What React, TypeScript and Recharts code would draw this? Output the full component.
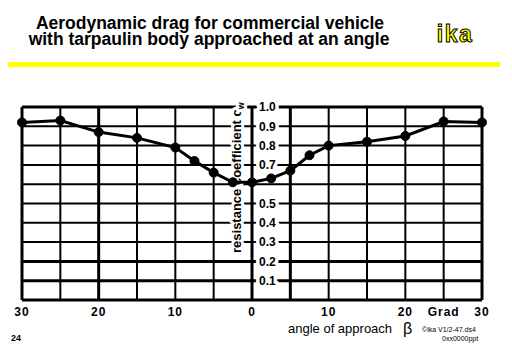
import React from "react";
import { LineChart, Line, XAxis, YAxis, ReferenceLine } from "recharts";

// ---- data ----
const angles = [-30, -25, -20, -15, -10, -7.5, -5, -2.5, 0, 2.5, 5, 7.5, 10, 15, 20, 25, 30];
const cwValues = [0.92, 0.93, 0.87, 0.84, 0.79, 0.72, 0.66, 0.61, 0.61, 0.63, 0.67, 0.75, 0.8, 0.82, 0.85, 0.925, 0.92];
const xTickValues = [-30, -20, -10, 0, 10, 20, 25, 30];
const xTickLabels = ["30", "20", "10", "0", "10", "20", "Grad", "30"];
const yTickValues = [0.1, 0.2, 0.3, 0.4, 0.5, 0.7, 0.8, 0.9, 1.0];
const yTickLabels = ["0.1", "0.2", "0.3", "0.4", "0.5", "0.7", "0.8", "0.9", "1.0"];
const hGridValues = [0, 0.1, 0.2, 0.3, 0.4, 0.5, 0.6, 0.7, 0.8, 0.9, 1.0];
const vGridValues = [-30, -25, -20, -15, -10, -5, 0, 5, 10, 15, 20, 25, 30];
const titleLines = ["Aerodynamic drag for commercial vehicle", "with tarpaulin body approached at an angle"];

const data = angles.map((a, i) => ({ angle: a, cw: cwValues[i] }));

const FONT = "'Liberation Sans', Arial, Helvetica, sans-serif";
const heavyH = [0, 0.1, 0.2, 1.0];
const heavyV = [-30, -20, 0, 5, 30];

const YTickLabel = (props: any) => {
  const vb = props.viewBox || {};
  const cx = vb.x + vb.width / 2;
  return (
    <text
      x={cx + 7}
      y={vb.y}
      dy="0.36em"
      fontFamily={FONT}
      fontWeight="bold"
      fontSize={12}
      fill="#000"
      stroke="#fff"
      strokeWidth={7}
      strokeLinejoin="round"
      paintOrder="stroke"
      textAnchor="start"
    >
      {props.text}
    </text>
  );
};

const YTitle = (props: any) => {
  const vb = props.viewBox || {};
  const x = vb.x - 11;
  const y = vb.y + vb.height - 47;
  return (
    <text
      x={x}
      y={y}
      transform={`rotate(-90, ${x}, ${y})`}
      fontFamily={FONT}
      fontWeight="bold"
      fontSize={13}
      fill="#000"
      stroke="#fff"
      strokeWidth={6}
      strokeLinejoin="round"
      paintOrder="stroke"
      textAnchor="start"
    >
      resistance coefficient c
      <tspan fontSize={9} dy={3}>w</tspan>
    </text>
  );
};

export default function App() {
  return (
    <div style={{ position: "absolute", left: 0, top: 0, width: 512, height: 354, background: "#fff" }}>
      <LineChart width={512} height={354} data={data} margin={{ top: 107, right: 30, left: 22, bottom: 24 }}>
        <XAxis
          dataKey="angle"
          type="number"
          domain={[-30, 30]}
          ticks={xTickValues}
          interval={0}
          tickFormatter={(v: number) => xTickLabels[xTickValues.indexOf(v)] ?? ""}
          axisLine={false}
          tickLine={false}
          tickSize={0}
          tickMargin={7}
          tick={{ fontSize: 12, fontWeight: "bold", fill: "#000", fontFamily: FONT, letterSpacing: 1 }}
        />
        <YAxis type="number" domain={[0, 1]} hide />
        {hGridValues.map((v) => {
          const idx = yTickValues.indexOf(v);
          return (
            <ReferenceLine
              key={`h${v}`}
              y={v}
              stroke="#000"
              strokeWidth={heavyH.includes(v) ? 3 : 2}
              label={idx >= 0 ? <YTickLabel text={yTickLabels[idx]} /> : undefined}
            />
          );
        })}
        {vGridValues.map((v) => (
          <ReferenceLine
            key={`v${v}`}
            x={v}
            stroke="#000"
            strokeWidth={heavyV.includes(v) ? 3 : 2}
            label={v === 0 ? <YTitle /> : undefined}
          />
        ))}
        <Line
          dataKey="cw"
          type="linear"
          stroke="#000"
          strokeWidth={3}
          dot={{ r: 4.5, fill: "#000", stroke: "#000", strokeWidth: 1 }}
          isAnimationActive={false}
        />
      </LineChart>
      <svg
        width={512}
        height={354}
        style={{ position: "absolute", left: 0, top: 0, pointerEvents: "none" }}
      >
        <text x={210} y={28.5} textAnchor="middle" fontFamily={FONT} fontWeight="bold" fontSize={17.5} fill="#000">
          {titleLines[0]}
        </text>
        <text x={209} y={44.5} textAnchor="middle" fontFamily={FONT} fontWeight="bold" fontSize={17.5} fill="#000">
          {titleLines[1]}
        </text>
        <text
          x={455}
          y={42}
          textAnchor="middle"
          fontFamily={FONT}
          fontWeight="bold"
          fontSize={23}
          letterSpacing={1.5}
          fill="#ffff00"
          stroke="#000"
          strokeWidth={1}
        >
          ika
        </text>
        <rect x={8} y={62} width={492} height={5} fill="#ffff00" />
        <text x={288} y={333} fontFamily={FONT} fontSize={13} fill="#000">
          angle of approach
        </text>
        <text x={403} y={334} fontFamily={FONT} fontSize={16} fill="#000">
          β
        </text>
        <text x={422} y={332} fontFamily={FONT} fontSize={7} fill="#000">
          ©ika  V1/2-47.ds4
        </text>
        <text x={11} y={341} fontFamily={FONT} fontWeight="bold" fontSize={9} fill="#000">
          24
        </text>
        <text x={442} y={341} fontFamily={FONT} fontSize={7} fill="#000">
          0xx0000ppt
        </text>
      </svg>
    </div>
  );
}
